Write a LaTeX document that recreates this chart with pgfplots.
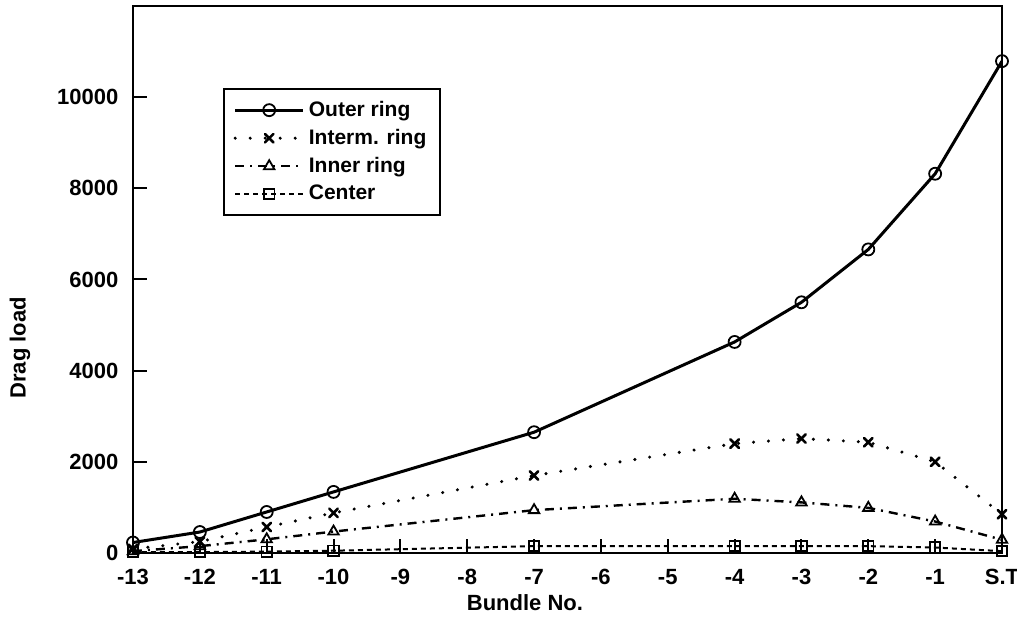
\documentclass[border=0pt]{standalone}
\usepackage{fontspec}
\setmainfont{Liberation Sans}
\usepackage{pgfplots}
\pgfplotsset{compat=1.18}
\usetikzlibrary{calc}

\begin{document}
\begin{tikzpicture}
\begin{axis}[
  at={(0,0)}, anchor=south west,
  scale only axis, width=434.5pt, height=273.5pt,
  xmin=-13, xmax=0, ymin=0, ymax=12000,
  xtick={-13,...,0},
  xticklabels={-13,-12,-11,-10,-9,-8,-7,-6,-5,-4,-3,-2,-1,S.T},
  ytick={0,2000,...,10000},
  scaled y ticks=false,
  /pgf/number format/assume math mode=true,
  /pgf/number format/set thousands separator={},
  tick align=inside, tick pos=left,
  major tick length=7pt,
  tick style={line width=1pt, black},
  axis line style={line width=1pt},
  ticklabel style={font=\fontsize{11}{13}\selectfont\bfseries},
  xticklabel style={yshift=-4.5pt},
  yticklabel style={xshift=-3.8pt},
  label style={font=\fontsize{11}{13}\selectfont\bfseries},
  xlabel={Bundle No.},
  xlabel style={at={(rel axis cs:0.451,-0.0914)}, anchor=center},
  ylabel={Drag load},
  ylabel style={at={(rel axis cs:-0.130,0.375)}, anchor=center},
  legend cell align=left,
  legend style={at={(rel axis cs:0.103,0.850)}, anchor=north west,
    draw=black, line width=1pt, inner xsep=5pt, inner ysep=4pt,
    row sep=0.9pt,
    font=\fontsize{10.5}{12}\selectfont\bfseries},
  legend image code/.code={%
    \draw[mark repeat=2, mark phase=2, #1]
      plot coordinates {(0pt,0pt) (17pt,0pt) (34pt,0pt)};},
  every axis plot/.append style={black},
  mark options={solid, line width=0.9pt, fill=white},
]
\addplot[line width=1.5pt, mark=o, mark size=3pt] coordinates {
  (-13,230) (-12,460) (-11,900) (-10,1340) (-7,2650) (-4,4630)
  (-3,5500) (-2,6660) (-1,8320) (0,10790)};
\addlegendentry{Outer ring}
\addplot[line width=1.7pt, line cap=round, dash pattern=on 0pt off 7.5pt,
  mark=x, mark size=3pt, mark options={solid, line width=1.3pt}] coordinates {
  (-13,90) (-12,250) (-11,570) (-10,880) (-7,1700) (-4,2400)
  (-3,2510) (-2,2430) (-1,2000) (0,850)};
\addlegendentry{Interm. ring}
\addplot[line width=1.2pt, dash pattern=on 4.5pt off 3pt on 1pt off 3pt,
  mark=triangle, mark size=3pt] coordinates {
  (-13,40) (-12,150) (-11,300) (-10,470) (-7,940) (-4,1190)
  (-3,1110) (-2,990) (-1,690) (0,290)};
\addlegendentry{Inner ring}
\addplot[line width=1pt, dash pattern=on 2.5pt off 2pt,
  mark=square, mark size=2.6pt] coordinates {
  (-13,20) (-12,20) (-11,30) (-10,50) (-7,150) (-4,150)
  (-3,150) (-2,150) (-1,120) (0,40)};
\addlegendentry{Center}
\end{axis}
\pgfresetboundingbox
\path (-66.5pt,-39pt) rectangle (442pt,276.5pt);
\end{tikzpicture}
\end{document}
